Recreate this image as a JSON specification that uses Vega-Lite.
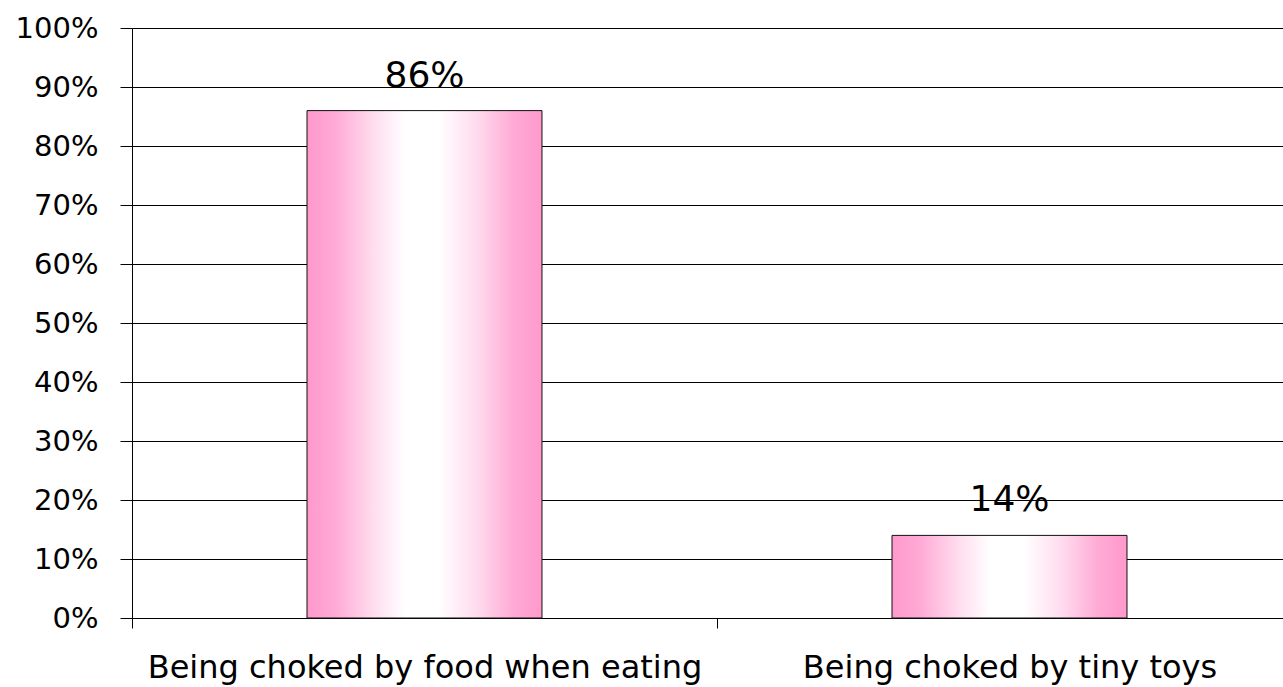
{
  "$schema": "https://vega.github.io/schema/vega-lite/v6.json",
  "width": 1170,
  "height": 590,
  "autosize": {"type": "none"},
  "padding": {"left": 132, "top": 28, "right": 0, "bottom": 69},
  "background": "white",
  "config": {
    "view": {"stroke": null},
    "font": "DejaVu Sans"
  },
  "data": {
    "values": [
      {"category": "Being choked by food when eating", "value": 0.86},
      {"category": "Being choked by tiny toys", "value": 0.14}
    ]
  },
  "encoding": {
    "x": {
      "field": "category",
      "type": "nominal",
      "sort": null,
      "scale": {"paddingInner": 0, "paddingOuter": 0},
      "axis": {
        "title": null,
        "labelAngle": 0,
        "labelFont": "DejaVu Sans",
        "labelFontSize": 32,
        "labelColor": "black",
        "labelPadding": 49,
        "labelBaseline": "alphabetic",
        "tickBand": "extent",
        "tickColor": "black",
        "tickSize": 10,
        "domainColor": "black",
        "domainWidth": 1,
        "grid": false,
        "labelLimit": 0
      }
    },
    "y": {
      "field": "value",
      "type": "quantitative",
      "scale": {"domain": [0, 1], "nice": false},
      "axis": {
        "title": null,
        "format": ".0%",
        "values": [0, 0.1, 0.2, 0.3, 0.4, 0.5, 0.6, 0.7, 0.8, 0.9, 1],
        "labelFont": "DejaVu Sans",
        "labelFontSize": 29,
        "labelColor": "black",
        "labelPadding": 22,
        "tickColor": "black",
        "tickSize": 12,
        "domainColor": "black",
        "gridColor": "black",
        "gridWidth": 1,
        "gridOpacity": 1,
        "grid": true
      }
    }
  },
  "layer": [
    {
      "mark": {
        "type": "bar",
        "width": {"band": 0.4017},
        "stroke": "#111111",
        "strokeWidth": 1,
        "color": {
          "gradient": "linear",
          "x1": 0, "y1": 0, "x2": 1, "y2": 0,
          "stops": [
            {"offset": 0, "color": "#ff99cc"},
            {"offset": 0.12, "color": "#ffaad5"},
            {"offset": 0.28, "color": "#ffdcee"},
            {"offset": 0.42, "color": "#ffffff"},
            {"offset": 0.56, "color": "#ffffff"},
            {"offset": 0.72, "color": "#ffdcee"},
            {"offset": 0.88, "color": "#ffaad5"},
            {"offset": 1, "color": "#ff99cc"}
          ]
        }
      }
    },
    {
      "mark": {
        "type": "text",
        "baseline": "alphabetic",
        "dy": -24,
        "fontSize": 36,
        "font": "DejaVu Sans",
        "color": "black"
      },
      "encoding": {
        "text": {"field": "value", "type": "quantitative", "format": ".0%"}
      }
    }
  ]
}
